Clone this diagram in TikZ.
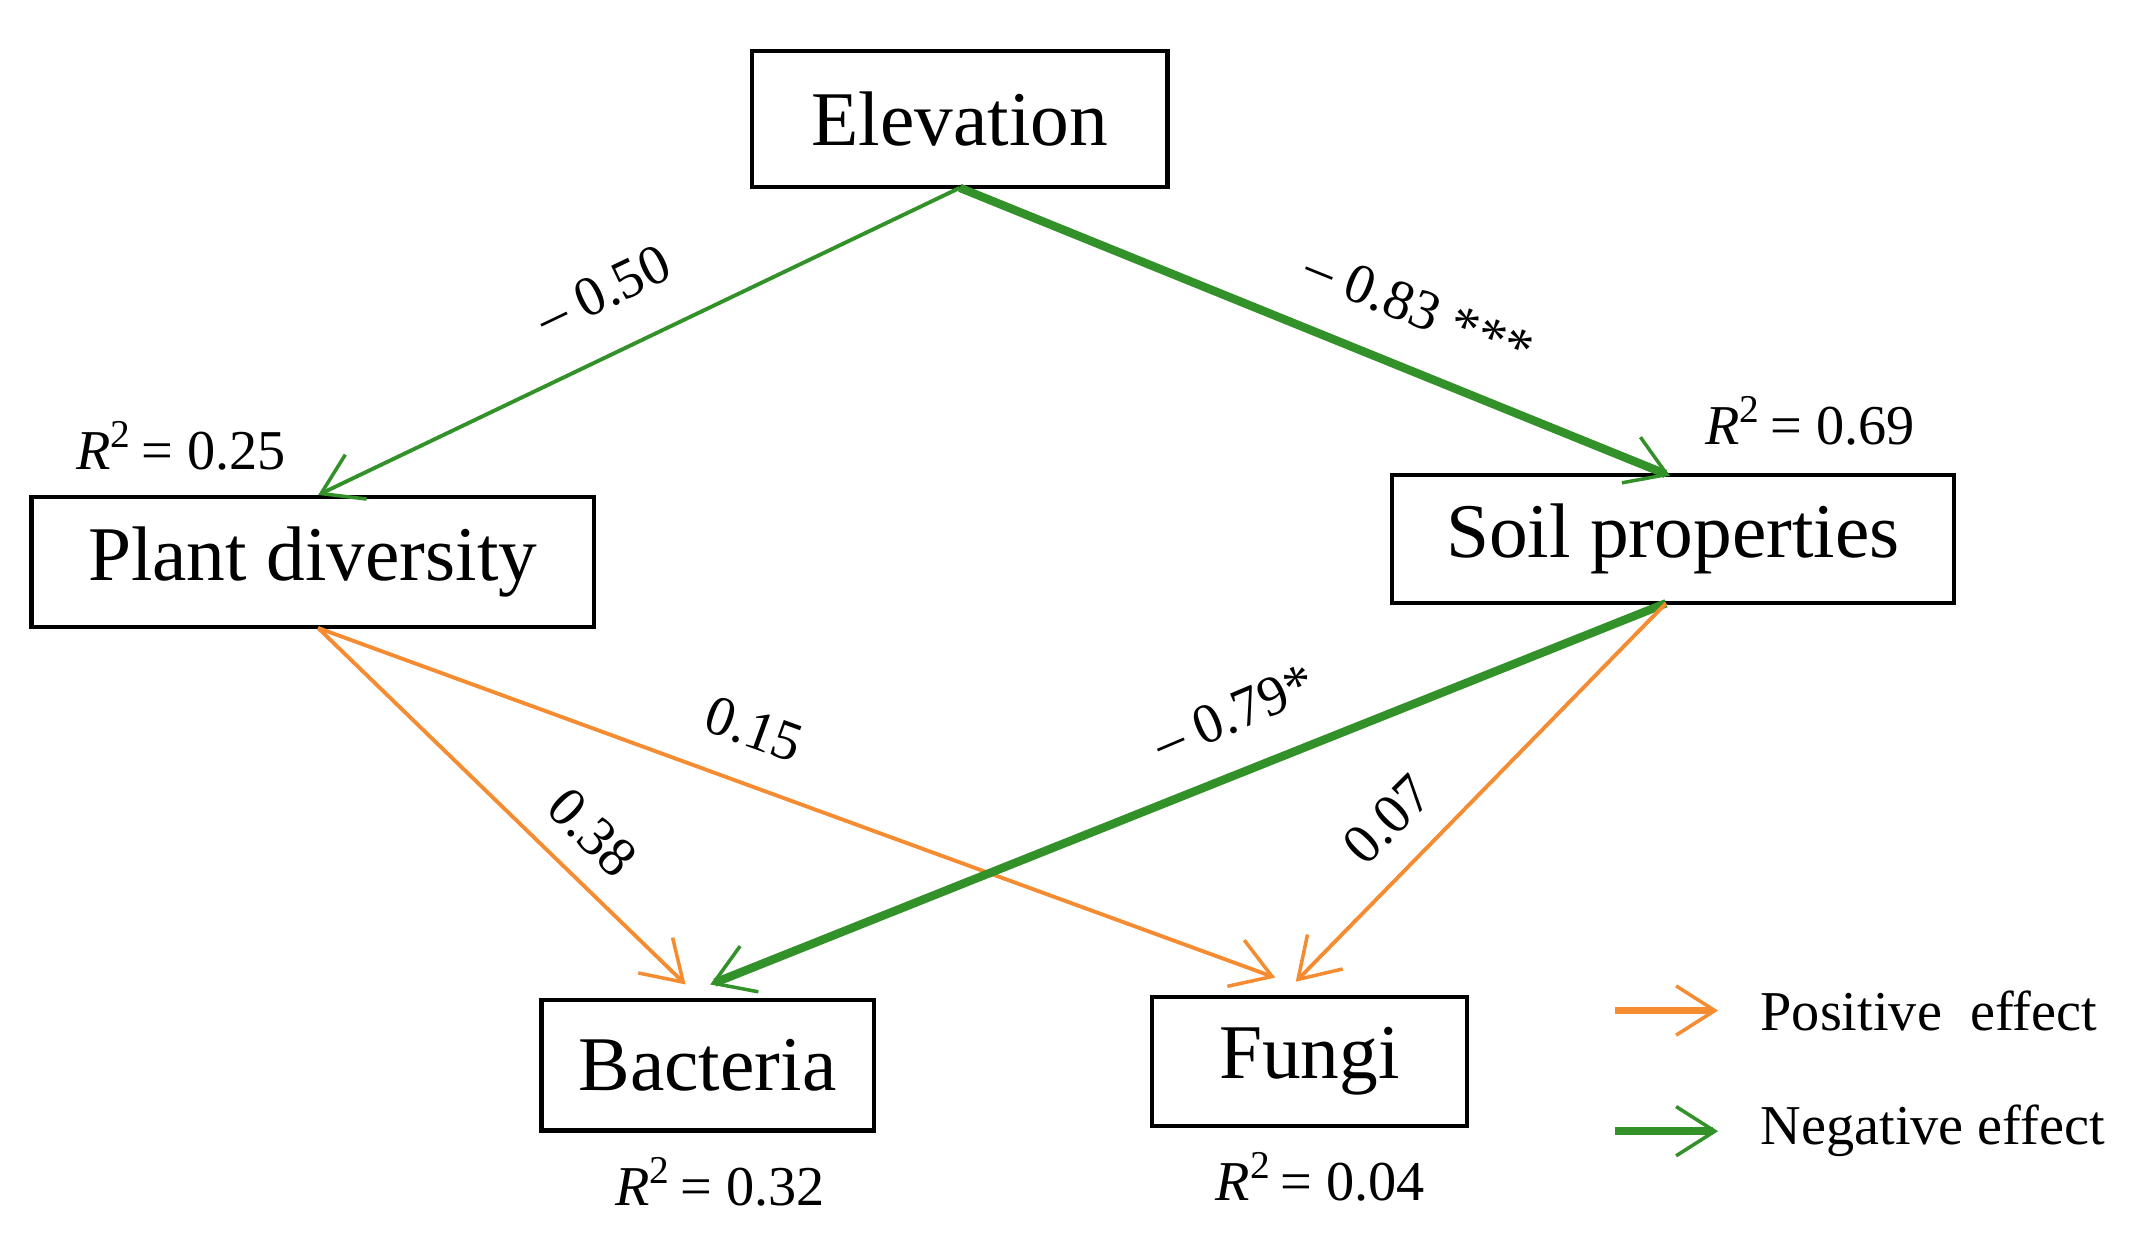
\documentclass[tikz,border=0pt]{standalone}
\usepackage{fontspec}
\setmainfont{Liberation Serif}
\usetikzlibrary{arrows.meta}
\definecolor{posc}{RGB}{245,140,50}
\definecolor{negc}{RGB}{50,145,40}
\begin{document}
\begin{tikzpicture}[x=0.01371cm,y=-0.01371cm,
  box/.style={draw,line width=1.2pt,font=\fontsize{22}{26}\selectfont,inner sep=0pt},
  lab/.style={font=\fontsize{16}{18}\selectfont},
  arr/.style={-{Straight Barb[length=11pt,width=14pt,line width=1pt]}},
  p/.style={arr,draw=posc,line width=1.1pt},
  nt/.style={arr,draw=negc,line width=1.1pt},
  nk/.style={arr,draw=negc,line width=2.4pt}]
\useasboundingbox (0,0) rectangle (1560,900);
\node[box,minimum width=4.15cm,minimum height=1.36cm] (e) at (700,87) {Elevation};
\node[box,minimum width=5.62cm,minimum height=1.30cm] (pl) at (228,410) {Plant diversity};
\node[box,minimum width=5.62cm,minimum height=1.28cm] (s) at (1220,393) {Soil properties};
\node[box,minimum width=3.32cm,minimum height=1.30cm] (b) at (516,777) {Bacteria};
\node[box,minimum width=3.15cm,minimum height=1.29cm] (f) at (955,774) {Fungi};
\coordinate (et) at (700,137);
\coordinate (pt) at (232,361);
\coordinate (st) at (1218,347);
\coordinate (pb) at (232,458);
\coordinate (sb) at (1215,440);
\coordinate (bt1) at (500,718);
\coordinate (bt2) at (518,718);
\coordinate (ft1) at (930,713);
\coordinate (ft2) at (945,716);
\draw[nt] (et) -- (pt);
\draw[nk] (et) -- (st);
\draw[p] (pb) -- (bt1);
\draw[p] (pb) -- (ft1);
\draw[nk] (sb) -- (bt2);
\draw[p] (sb) -- (ft2);
\node[lab,rotate=25.6] (l1) at (440,212) {– 0.50};
\node[lab,rotate=-22] (l2) at (1035,225) {– 0.83 ***};
\node[lab,rotate=-20] (l3) at (550,532) {0.15};
\node[lab,rotate=-45] (l4) at (432,607) {0.38};
\node[lab,rotate=23] (l5) at (900,520) {– 0.79*};
\node[lab,rotate=45] (l6) at (1012,598) {0.07};
\node[lab] (r1) at (132,325) {\textit{R}\textsuperscript{2}\,= 0.25};
\node[lab] (r2) at (1320,307) {\textit{R}\textsuperscript{2}\,= 0.69};
\node[lab] (r3) at (525,862) {\textit{R}\textsuperscript{2}\,= 0.32};
\node[lab] (r4) at (963,858) {\textit{R}\textsuperscript{2}\,= 0.04};
\coordinate (a1) at (1178,737); \coordinate (a2) at (1253,737);
\coordinate (a3) at (1178,825); \coordinate (a4) at (1253,825);
\draw[p,line width=2.2pt] (a1) -- (a2);
\draw[nk] (a3) -- (a4);
\node[lab,anchor=west] (t1) at (1275,737) {Positive\ \ effect};
\node[lab,anchor=west] (t2) at (1275,825) {Negative effect};
\end{tikzpicture}
\end{document}
